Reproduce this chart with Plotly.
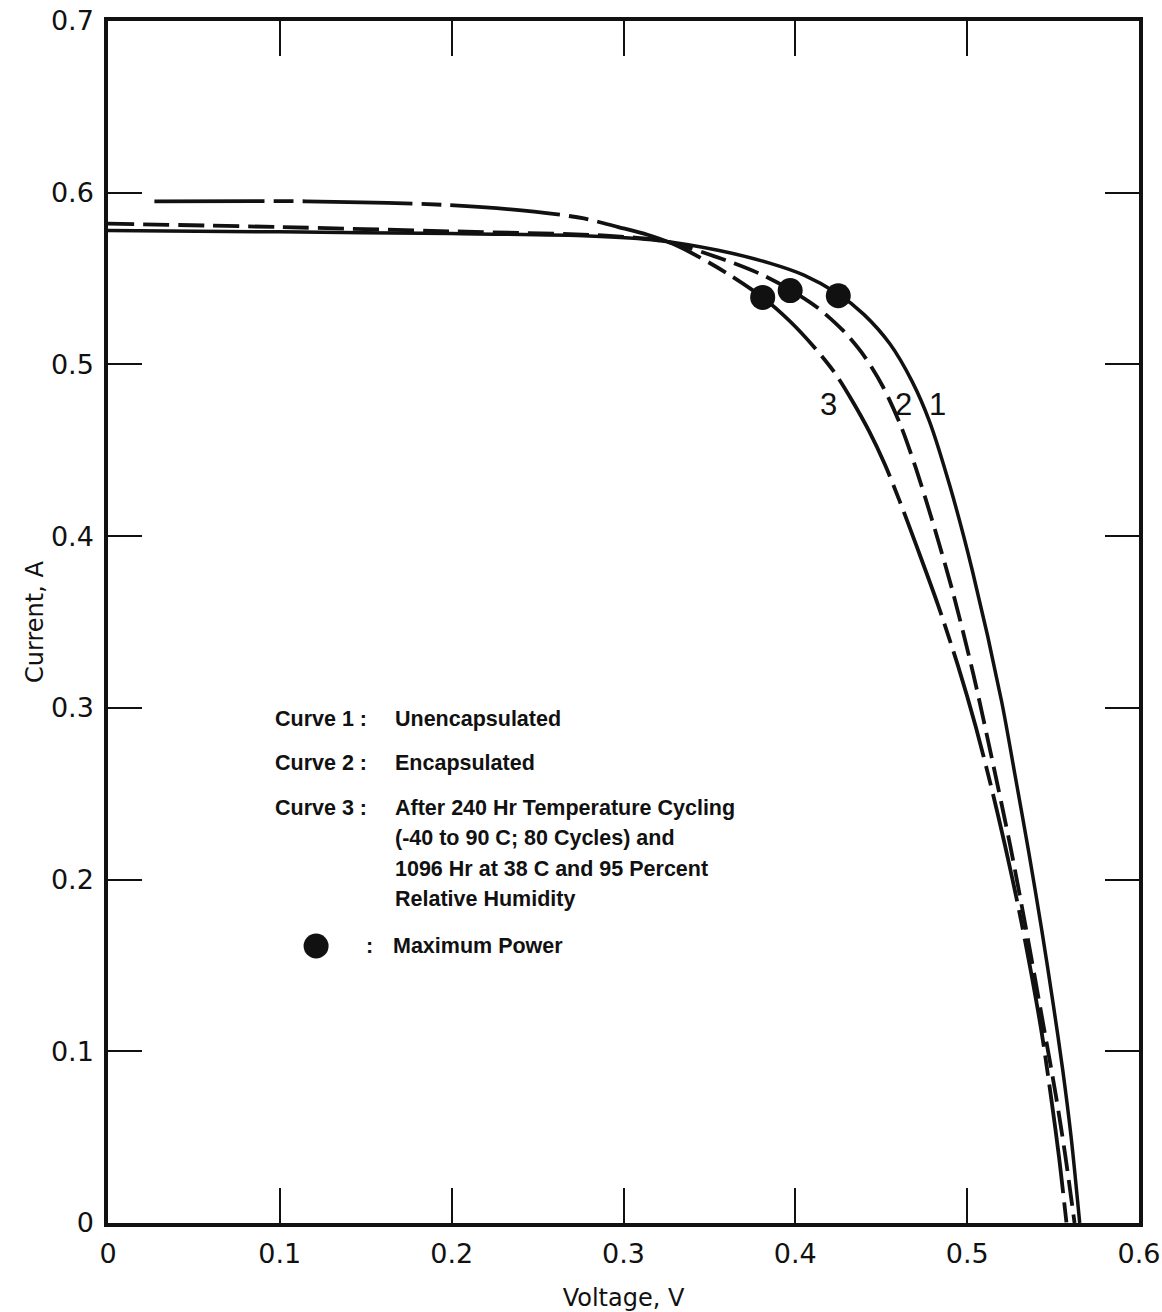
import plotly.graph_objects as go

# ---- data (Voltage V, Current A) ----
c1_v = [0.0, 0.10, 0.20, 0.280, 0.320, 0.355, 0.385, 0.405, 0.425, 0.440, 0.455, 0.468, 0.478,
        0.490, 0.503, 0.520, 0.528, 0.536, 0.5435, 0.550, 0.5555, 0.5605, 0.5655]
c1_i = [0.578, 0.5772, 0.5762, 0.5748, 0.5722, 0.5665, 0.5590, 0.5520, 0.5410, 0.5290, 0.5120,
        0.4900, 0.4670, 0.4290, 0.3800, 0.304, 0.260, 0.215, 0.170, 0.128, 0.090, 0.050, 0.0]

c2_v = [0.0, 0.10, 0.20, 0.290, 0.325, 0.360, 0.380, 0.397, 0.413, 0.428, 0.440, 0.451, 0.4615,
        0.470, 0.480, 0.4915, 0.5035, 0.5145, 0.525, 0.5345, 0.5435, 0.5515, 0.557, 0.5625]
c2_i = [0.582, 0.580, 0.5775, 0.5750, 0.5715, 0.5605, 0.5525, 0.5435, 0.5330, 0.5195, 0.5050,
        0.4870, 0.4640, 0.4400, 0.4080, 0.3680, 0.3200, 0.2700, 0.2200, 0.1700, 0.1200, 0.0750,
        0.0400, 0.0]

c3_v = [0.027, 0.115, 0.194, 0.248, 0.277, 0.297, 0.314, 0.328, 0.345, 0.362, 0.381, 0.397, 0.411,
        0.423, 0.433, 0.443, 0.452, 0.4605, 0.471, 0.483, 0.4945, 0.505, 0.514, 0.522, 0.530,
        0.537, 0.5435, 0.549, 0.5535, 0.5578]
c3_i = [0.595, 0.595, 0.5930, 0.5890, 0.5850, 0.5800, 0.5755, 0.5705, 0.5620, 0.5520, 0.5390,
        0.5250, 0.5100, 0.4950, 0.4790, 0.4610, 0.4420, 0.4210, 0.3930, 0.3600, 0.3250, 0.2890,
        0.2540, 0.2200, 0.1830, 0.1470, 0.1100, 0.0720, 0.0380, 0.0]

mp_v = [0.425, 0.397, 0.381]
mp_i = [0.540, 0.543, 0.539]

x_ticks = [0, 0.1, 0.2, 0.3, 0.4, 0.5, 0.6]
x_ticktext = ["0", "0.1", "0.2", "0.3", "0.4", "0.5", "0.6"]
y_ticks = [0, 0.1, 0.2, 0.3, 0.4, 0.5, 0.6, 0.7]
y_ticktext = ["0", "0.1", "0.2", "0.3", "0.4", "0.5", "0.6", "0.7"]

curve_labels = ["1", "2", "3"]
curve_label_v = [0.4825, 0.4628, 0.4191]
curve_label_i = [0.4764, 0.4764, 0.4764]

legend_left = ["Curve 1 :", "Curve 2 :", "Curve 3 :"]
legend_right = ["Unencapsulated", "Encapsulated", "After 240 Hr Temperature Cycling",
                "(-40 to 90 C; 80 Cycles) and", "1096 Hr at 38 C and 95 Percent",
                "Relative Humidity"]
legend_left_i = [0.2935, 0.2679, 0.2417]
legend_right_i = [0.2935, 0.2679, 0.2417, 0.2242, 0.2062, 0.1887]
legend_max_text = "Maximum Power"
legend_max_i = 0.1613

INK = "#111111"
FONT = "DejaVu Sans"
LFONT = dict(family="Liberation Sans", size=21.5, color=INK, weight="bold")

fig = go.Figure()
fig.add_trace(go.Scatter(x=c1_v, y=c1_i, mode="lines", name="Curve 1",
                         line=dict(color=INK, width=3.5, shape="spline", smoothing=0.8)))
fig.add_trace(go.Scatter(x=c2_v, y=c2_i, mode="lines", name="Curve 2",
                         line=dict(color=INK, width=3.8, dash="26px,9px", shape="spline", smoothing=0.8)))
fig.add_trace(go.Scatter(x=c3_v, y=c3_i, mode="lines", name="Curve 3",
                         line=dict(color=INK, width=3.8, dash="110px,9px,20px,9px", shape="spline",
                                   smoothing=0.8)))
fig.add_trace(go.Scatter(x=mp_v, y=mp_i, mode="markers", name="Maximum Power",
                         marker=dict(color=INK, size=25, line=dict(width=0))))

ann = []
for t, v, i in zip(curve_labels, curve_label_v, curve_label_i):
    ann.append(dict(x=v, y=i, text=t, showarrow=False, xanchor="center", yanchor="middle",
                    font=dict(family="Liberation Sans", size=31, color=INK)))
for t, i in zip(legend_left, legend_left_i):
    ann.append(dict(x=0.0960, y=i, text=t, showarrow=False, xanchor="left", yanchor="middle", font=LFONT))
for t, i in zip(legend_right, legend_right_i):
    ann.append(dict(x=0.1659, y=i, text=t, showarrow=False, xanchor="left", yanchor="middle", font=LFONT))
ann.append(dict(x=0.1519, y=legend_max_i, text=":", showarrow=False, xanchor="center",
                yanchor="middle", font=LFONT))
ann.append(dict(x=0.1647, y=legend_max_i, text=legend_max_text, showarrow=False, xanchor="left",
                yanchor="middle", font=LFONT))

shapes = [dict(type="circle", xref="x", yref="y", xsizemode="pixel", ysizemode="pixel",
               xanchor=0.1211, yanchor=legend_max_i, x0=-12.5, x1=12.5, y0=-12.5, y1=12.5,
               fillcolor=INK, line=dict(width=0))]

fig.update_layout(
    width=1162, height=1312,
    margin=dict(l=108, r=23, t=21, b=89),
    paper_bgcolor="white", plot_bgcolor="white",
    showlegend=False,
    annotations=ann, shapes=shapes,
    font=dict(family=FONT, color=INK),
)
fig.update_xaxes(
    range=[0, 0.6], tickvals=x_ticks, ticktext=x_ticktext,
    showgrid=False, zeroline=False, showline=True, linewidth=3.5, linecolor=INK,
    mirror="ticks", ticks="inside", ticklen=35, tickwidth=2, tickcolor=INK,
    tickfont=dict(family=FONT, size=27, color=INK), ticklabelstandoff=4,
    title=dict(text="Voltage, V", font=dict(family=FONT, size=24, color=INK), standoff=25),
    automargin=False,
)
fig.update_yaxes(
    range=[0, 0.7], tickvals=y_ticks, ticktext=y_ticktext,
    showgrid=False, zeroline=False, showline=True, linewidth=3.5, linecolor=INK,
    mirror="ticks", ticks="inside", ticklen=34, tickwidth=2, tickcolor=INK,
    tickfont=dict(family=FONT, size=27, color=INK), ticklabelstandoff=5,
    title=dict(text="Current, A", font=dict(family=FONT, size=24, color=INK), standoff=1),
    automargin=False,
)

fig.write_html("out.html", config={"displayModeBar": False},
               post_script="document.body.style.margin='0';document.body.style.overflow='hidden';")
